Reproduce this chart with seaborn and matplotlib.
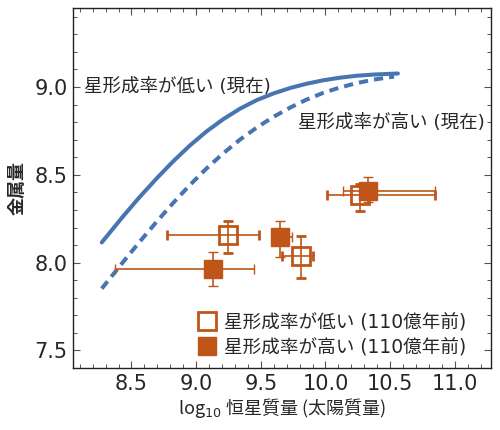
import matplotlib
matplotlib.use("Agg")
import matplotlib.pyplot as plt
from matplotlib.lines import Line2D
from matplotlib.ticker import MultipleLocator
import numpy as np
import seaborn as sns

# present-day relations
low_sfr_x = [8.27, 8.44, 8.56, 8.69, 8.82, 8.95, 9.08, 9.21, 9.34, 9.47, 9.60,
             9.73, 9.85, 9.98, 10.11, 10.24, 10.37, 10.56]
low_sfr_y = [8.115, 8.268, 8.371, 8.476, 8.575, 8.666, 8.747, 8.817, 8.877,
             8.926, 8.964, 8.995, 9.018, 9.038, 9.053, 9.064, 9.071, 9.077]
high_sfr_x = [8.27, 8.44, 8.56, 8.69, 8.82, 8.95, 9.08, 9.21, 9.34, 9.47, 9.60,
              9.73, 9.85, 9.98, 10.11, 10.24, 10.37, 10.50, 10.53]
high_sfr_y = [7.852, 8.008, 8.116, 8.229, 8.338, 8.441, 8.536, 8.623, 8.701,
              8.770, 8.831, 8.884, 8.927, 8.966, 8.997, 9.022, 9.042, 9.056, 9.059]

# 11 billion years ago, low star formation (open squares)
open_x = [9.25, 9.81, 10.27]
open_y = [8.155, 8.04, 8.385]
open_xlo = [8.776, 9.661, 10.01]
open_xhi = [9.488, 9.906, 10.85]
open_ylo = [8.055, 7.915, 8.293]
open_yhi = [8.238, 8.152, 8.45]

# 11 billion years ago, high star formation (filled squares)
filled_x = [9.13, 9.65, 10.33]
filled_y = [7.964, 8.145, 8.41]
filled_xlo = [8.371, 9.584, 10.133]
filled_xhi = [9.447, 9.738, 10.85]
filled_ylo = [7.865, 8.033, 8.343]
filled_yhi = [8.061, 8.236, 8.489]

blue = "#4675b2"
orange = "#bf5518"

sns.set_theme(style="ticks")
plt.rcParams['font.family'] = ['DejaVu Sans', 'Noto Sans CJK JP']

fig = plt.figure(figsize=(5, 4.3), dpi=100)
ax = fig.add_axes([0.1466, 0.1442, 0.8354, 0.8372])

sns.lineplot(x=low_sfr_x, y=low_sfr_y, ax=ax, color=blue, lw=2.9,
             sort=False, estimator=None)
sns.lineplot(x=high_sfr_x, y=high_sfr_y, ax=ax, color=blue, lw=2.9,
             ls=(0, (2.3, 1.5)), sort=False, estimator=None)


def err(v, lo, hi):
    v = np.array(v)
    return [v - np.array(lo), np.array(hi) - v]


ax.errorbar(open_x, open_y, xerr=err(open_x, open_xlo, open_xhi),
            yerr=err(open_y, open_ylo, open_yhi), fmt='s', ms=12.5,
            mfc='none', mec=orange, mew=2.0, ecolor=orange, elinewidth=1.2,
            capsize=3.5, capthick=1.5, zorder=3)
ax.errorbar(filled_x, filled_y, xerr=err(filled_x, filled_xlo, filled_xhi),
            yerr=err(filled_y, filled_ylo, filled_yhi), fmt='s', ms=12.5,
            mfc=orange, mec=orange, mew=1.0, ecolor=orange, elinewidth=1.2,
            capsize=3.5, capthick=1.5, zorder=4)

ax.text(8.13, 9.0, "星形成率が低い (現在)", fontsize=13.3, va='center', ha='left')
ax.text(9.79, 8.797, "星形成率が高い (現在)", fontsize=13.3, va='center', ha='left')

ax.set_xlim(8.05, 11.28)
ax.set_ylim(7.4, 9.45)
ax.xaxis.set_major_locator(MultipleLocator(0.5))
ax.xaxis.set_minor_locator(MultipleLocator(0.1))
ax.yaxis.set_major_locator(MultipleLocator(0.5))
ax.yaxis.set_minor_locator(MultipleLocator(0.1))
ax.set_xticks([8.5, 9.0, 9.5, 10.0, 10.5, 11.0])
ax.set_xticklabels(["8.5", "9.0", "9.5", "10.0", "10.5", "11.0"])
ax.tick_params(which='both', direction='in', top=True, right=True,
               color='#555555')
ax.tick_params(which='major', length=5, width=0.8, labelsize=15, pad=4)
ax.tick_params(which='minor', length=3, width=0.7)
for s in ax.spines.values():
    s.set_color('#222222')
    s.set_linewidth(1.0)

ax.set_xlabel("log$_{10}$ 恒星質量 (太陽質量)", fontsize=13, labelpad=2,
              family=['Noto Sans CJK JP', 'DejaVu Sans'])
ax.set_ylabel("金属量", fontsize=13, fontweight='bold', labelpad=6)

handles = [
    Line2D([], [], marker='s', ls='none', ms=12.5, mfc='white', mec=orange, mew=2.0),
    Line2D([], [], marker='s', ls='none', ms=12.5, mfc=orange, mec=orange, mew=1.0),
]
ax.legend(handles, ["星形成率が低い (110億年前)", "星形成率が高い (110億年前)"],
          loc='lower right', bbox_to_anchor=(0.959, 0.01), borderaxespad=0,
          frameon=False, fontsize=13.4, handlelength=1.0,
          handletextpad=0.4, labelspacing=0.35)

fig.savefig("out.png", dpi=100)
